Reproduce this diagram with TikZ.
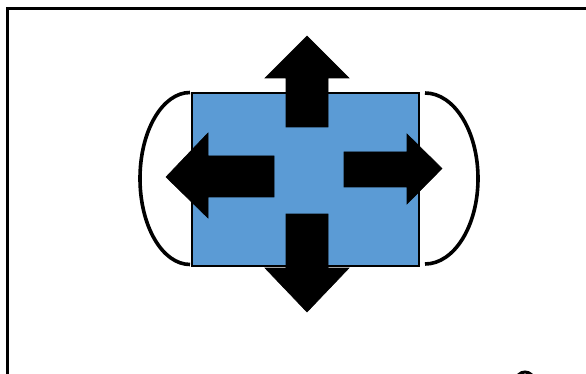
\documentclass[tikz,border=0pt]{standalone}
\begin{document}
\begin{tikzpicture}[x=1pt,y=-1pt,
  bigarrow/.style={fill=black,draw=black,line width=0.6pt,line join=miter},
  bracketline/.style={draw=black,line width=3.6pt},
  framel/.style={draw=black,line width=3pt}]
\definecolor{boxblue}{HTML}{5B9BD5}
\useasboundingbox (0,0) rectangle (586,374);
\begin{scope}
\clip (0,0) rectangle (586,374);
% frame
\draw[framel] (7.5,400) -- (7.5,9) -- (620,9);
% small circle at bottom right
\draw[line width=3pt] (525,381) circle (9);
\end{scope}
% blue box
\node[draw=black,line width=1.6pt,fill=boxblue,minimum width=227pt,minimum height=173pt,inner sep=0pt,anchor=north west] (box) at (191,92) {};
% brackets
\draw[bracketline] (190,92.5) arc[start angle=270,end angle=90,x radius=50,y radius=86];
\draw[bracketline] (425,93) arc[start angle=270,end angle=450,x radius=53,y radius=85.5];
% up arrow
\draw[bigarrow] (286,127) -- (286,78) -- (265,78) -- (307,36) -- (349,78) -- (328,78) -- (328,127) -- cycle;
% down arrow
\draw[bigarrow] (286,214) -- (286,268) -- (265,268) -- (307,312) -- (349,268) -- (328,268) -- (328,214) -- cycle;
% left arrow
\draw[bigarrow] (274,156) -- (208,156) -- (208,133) -- (166,177) -- (208,218) -- (208,197) -- (274,197) -- cycle;
% right arrow
\draw[bigarrow] (344,152) -- (407,152) -- (407,134) -- (442,168.5) -- (407,204) -- (407,187) -- (344,187) -- cycle;
\end{tikzpicture}
\end{document}
